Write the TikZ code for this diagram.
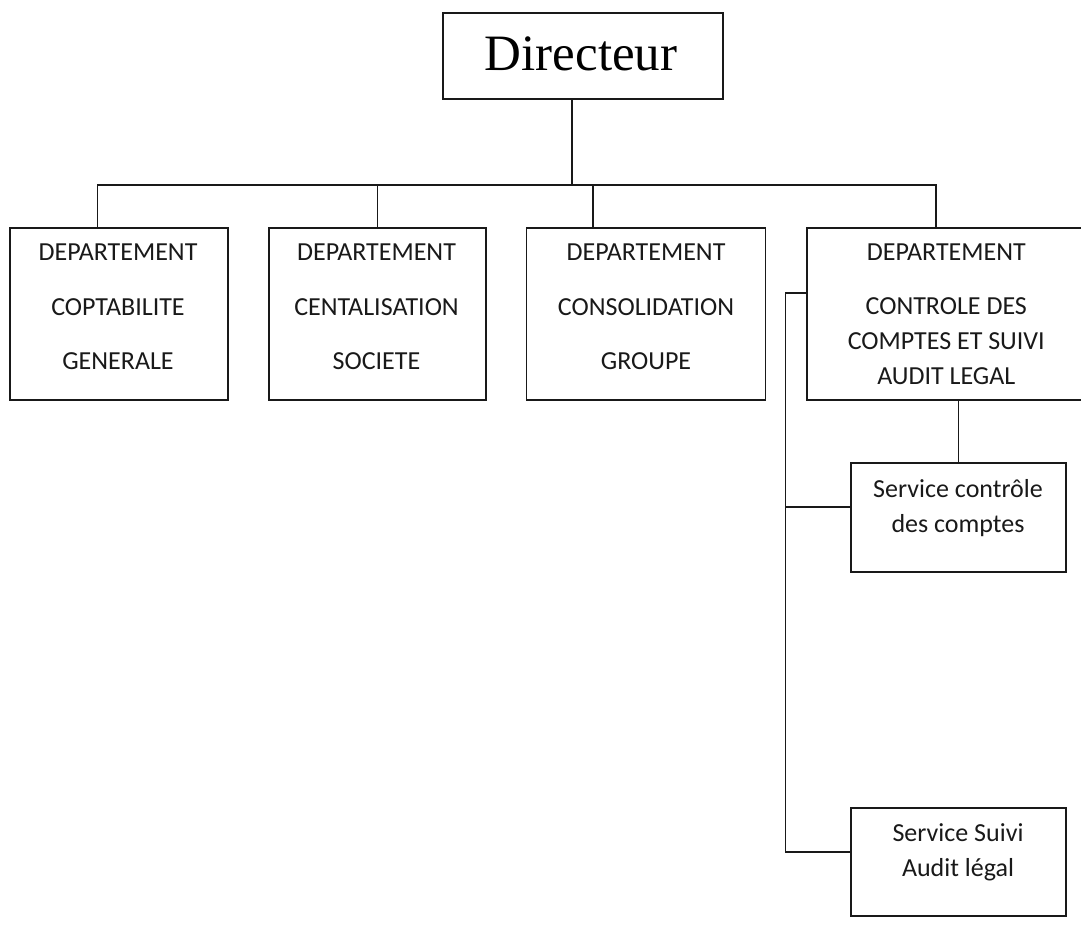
\documentclass[tikz,border=0pt]{standalone}
\usepackage{fontspec}
\setmainfont{Carlito}
\newfontfamily\dirfont{Liberation Serif}
\begin{document}
\begin{tikzpicture}[x=1pt,y=-1pt,
  box/.style={draw=black!90,line width=1.6pt,rectangle,inner sep=0pt},
  txt/.style={anchor=base,inner sep=0pt,font=\fontsize{26}{26}\selectfont,text=black!90},
  link/.style={draw=black!90,line width=1.6pt}]
\useasboundingbox (0,0) rectangle (1081,933);
% boxes
\node[box,minimum width=280pt,minimum height=86pt] (dir) at (583,56) {};
\node[box,minimum width=218pt,minimum height=172pt] (d1) at (119,314) {};
\node[box,minimum width=217pt,minimum height=172pt] (d2) at (377.5,314) {};
\node[box,minimum width=239pt,minimum height=172pt] (d3) at (646,314) {};
\node[box,minimum width=283pt,minimum height=172pt] (d4) at (948.5,314) {};
\node[box,minimum width=215pt,minimum height=109pt] (s1) at (958.5,517.5) {};
\node[box,minimum width=215pt,minimum height=108pt] (s2) at (958.5,862) {};
% texts
\node[anchor=base,inner sep=0pt,font=\dirfont\fontsize{51}{51}\selectfont] (tdir) at (581,70.7) {Directeur};
\node[txt] (t1a) at (118,260.7) {DEPARTEMENT};
\node[txt] (t1b) at (118,315) {COPTABILITE};
\node[txt] (t1c) at (118,369.3) {GENERALE};
\node[txt] (t2a) at (376.5,260.7) {DEPARTEMENT};
\node[txt] (t2b) at (376.5,315) {CENTALISATION};
\node[txt] (t2c) at (376.5,369.3) {SOCIETE};
\node[txt] (t3a) at (646,260.7) {DEPARTEMENT};
\node[txt] (t3b) at (646,315) {CONSOLIDATION};
\node[txt] (t3c) at (646,369.3) {GROUPE};
\node[txt] (t4a) at (946.3,260.7) {DEPARTEMENT};
\node[txt] (t4b) at (946.3,314.5) {CONTROLE DES};
\node[txt] (t4c) at (946.3,349.5) {COMPTES ET SUIVI};
\node[txt] (t4d) at (946.3,384.5) {AUDIT LEGAL};
\node[txt] (t5a) at (958,497.3) {Service contrôle};
\node[txt] (t5b) at (958,532) {des comptes};
\node[txt] (t6a) at (958,841) {Service Suivi};
\node[txt] (t6b) at (958,876.5) {Audit légal};
% connector points
\coordinate (bus0) at (572,185);
\coordinate (busL) at (97.5,185);
\coordinate (busR) at (936,185);
\coordinate (c3) at (593,185);
\coordinate (sv) at (785.5,293);
\coordinate (sm) at (785.5,507);
\coordinate (svb) at (785.5,852);
% connectors
\draw[link] (dir.south -| bus0) -- (bus0);
\draw[link] (d1.north -| busL) -- (busL) -- (busR) -- (d4.north -| busR);
\draw[link] (d2.north) -- (d2.north |- busL);
\draw[link] (c3) -- (d3.north -| c3);
\draw[link] (d4.west |- sv) -- (sv) -- (svb) -- (s2.west |- svb);
\draw[link] (sm) -- (s1.west |- sm);
\draw[link] (s1.north) -- (s1.north |- d4.south);
\end{tikzpicture}
\end{document}
